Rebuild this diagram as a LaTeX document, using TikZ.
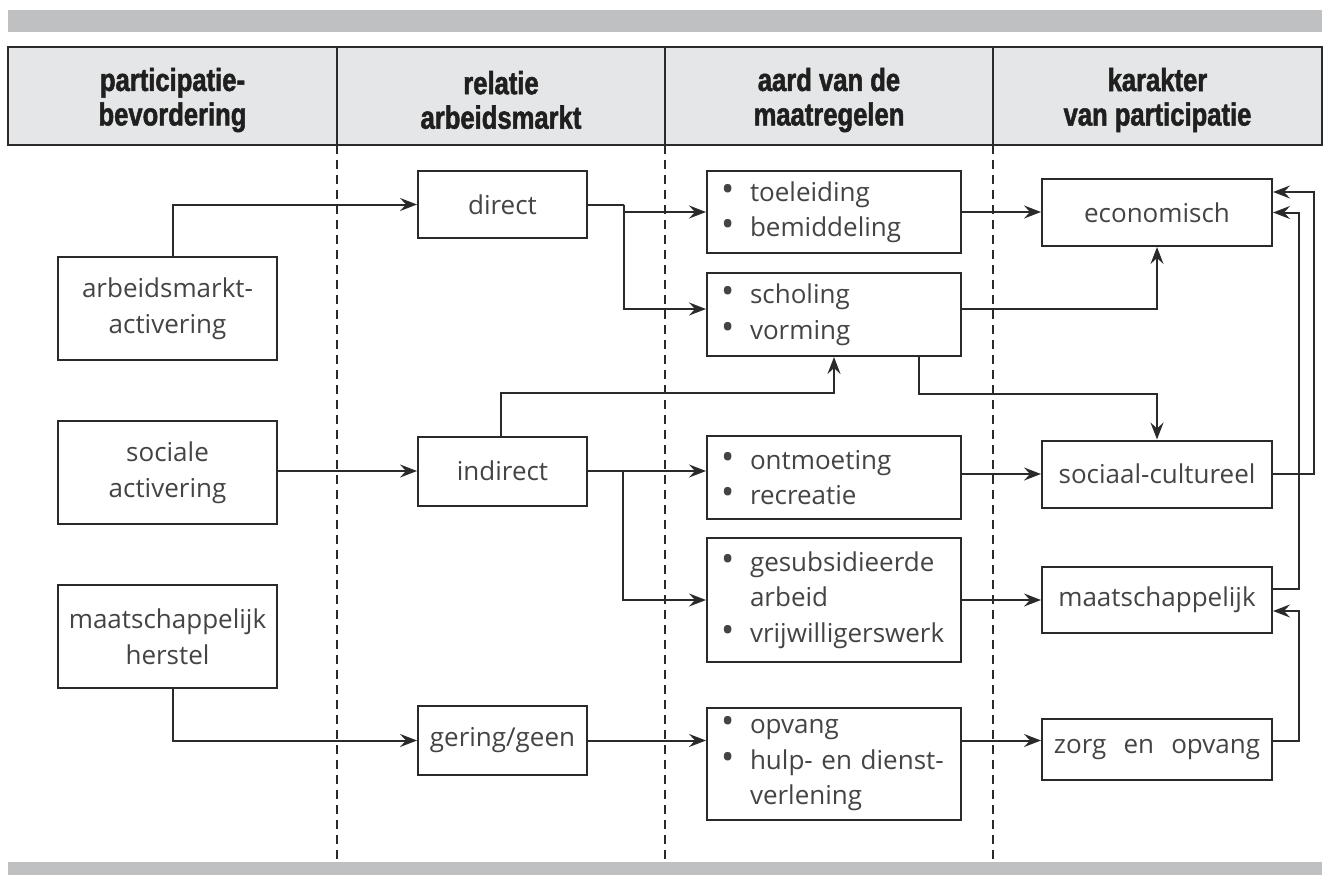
\documentclass[tikz,border=0pt]{standalone}
\usepackage{fontspec}
\setmainfont{Open Sans}
\newfontfamily\hfont[FakeStretch=0.8,BoldFeatures={FakeBold=1.6}]{Liberation Sans}
\usetikzlibrary{arrows.meta}
\definecolor{barg}{HTML}{BFC0C2}
\definecolor{hdrg}{HTML}{E5E6E7}
\definecolor{ln}{HTML}{2A2A2A}
\definecolor{txt}{HTML}{444444}
\newcommand{\itm}{\hspace*{12pt}\makebox[29pt][l]{\scalebox{1.35}{•}}}
\newcommand{\cnt}{\hspace*{41pt}}
\begin{document}
\begin{tikzpicture}[x=1pt,y=-1pt,
  box/.style={draw=ln,line width=2pt,fill=white,text=txt,font=\fontsize{26}{35.5}\selectfont,align=center,inner sep=0pt},
  lbox/.style={box,align=left,text width=250pt,inner xsep=2pt,minimum width=254pt},
  hdr/.style={font=\hfont\bfseries\fontsize{32}{34.5}\selectfont,align=center,text=black!88},
  conn/.style={draw=ln,line width=2pt,-{Stealth[length=17pt,width=13pt,inset=6pt]}},
  plain/.style={draw=ln,line width=2pt},
  sepline/.style={draw=ln,line width=1.6pt,dash pattern=on 9pt off 6pt}]
\path[use as bounding box] (0,0) rectangle (1324,875);
% bars
\fill[barg] (8,10) rectangle (1322,32);
\fill[barg] (8,862) rectangle (1322,875);
% header
\draw[ln,line width=2.2pt,fill=hdrg] (8,47) rectangle (1322,145);
\foreach \x in {337,665,993} \draw[ln,line width=2.2pt] (\x,47) -- (\x,145);
\node[hdr] (h1) at (172.5,100) {participatie-\\bevordering};
\node[hdr] (h2) at (501,100) {relatie\\arbeidsmarkt};
\node[hdr] (h3) at (829,100) {aard van de\\maatregelen};
\node[hdr] (h4) at (1157.5,100) {karakter\\van participatie};
% dashed separators
\foreach \x in {337,665,993} \draw[sepline] (\x,145) -- (\x,862);
% column 1
\node[box,minimum width=219pt,minimum height=103pt] (arb) at (167.5,308.5) {arbeidsmarkt-\\activering};
\node[box,minimum width=219pt,minimum height=103pt] (soc) at (167.5,472.5) {sociale\\activering};
\node[box,minimum width=219pt,minimum height=103pt] (her) at (167.5,636.5) {maatschappelijk\\herstel};
% column 2
\node[box,minimum width=169pt,minimum height=67pt] (dir) at (502.5,204.5) {direct};
\node[box,minimum width=169pt,minimum height=69pt] (ind) at (502.5,471) {indirect};
\node[box,minimum width=169pt,minimum height=69pt] (ger) at (502.5,740.5) {gering/geen};
% column 3
\node[lbox,minimum height=82pt] (toel) at (834,212) {\itm toeleiding\\\itm bemiddeling};
\node[lbox,minimum height=83pt] (schol) at (834,314.5) {\itm scholing\\\itm vorming};
\node[lbox,minimum height=83pt] (ontm) at (834,477.5) {\itm ontmoeting\\\itm recreatie};
\node[lbox,minimum height=124pt] (gesub) at (834,600) {\itm gesubsidieerde\\\cnt arbeid\\\itm vrijwilligerswerk};
\node[lbox,minimum height=112pt] (opv) at (834,764) {\itm opvang\\\itm \makebox[199pt][s]{hulp- en dienst-}\\\cnt verlening};
% column 4
\node[box,minimum width=230pt,minimum height=67pt] (econ) at (1157,212.5) {economisch};
\node[box,minimum width=230pt,minimum height=67pt] (socc) at (1157,474) {sociaal-cultureel};
\node[box,minimum width=230pt,minimum height=66pt] (maats) at (1157,599.5) {maatschappelijk};
\node[box,minimum width=230pt,minimum height=61pt] (zorg) at (1157,749.5) {zorg\hspace{0.4em} en\hspace{0.4em} opvang};
% connectors
\draw[conn] ([xshift=5.5pt]arb.north) |- (dir.west);
\draw[plain] (dir.east) -- ++(36,0) coordinate (dj);
\draw[conn] (dj) |- (toel.west);
\draw[conn] (dj) |- ([yshift=5.5pt]schol.west);
\draw[conn] (toel.east) -- (toel.east -| econ.west);
\draw[conn] ([yshift=5.5pt]schol.east) -| (econ.south);
\draw[conn] ([xshift=85pt]schol.south) -- ++(0,37) -| (socc.north);
\draw[conn] ([xshift=-1.5pt]ind.north) -- ++(0,-43) -| (schol.south);
\draw[conn] (soc.east |- ind.west) -- (ind.west);
\draw[plain] (ind.east) -- ++(35,0) coordinate (ij);
\draw[conn] (ij) -- (ij -| ontm.west);
\draw[conn] (ij) |- (gesub.west);
\draw[conn] (ontm.east |- socc.west) -- (socc.west);
\draw[conn] (gesub.east) -- (gesub.east -| maats.west);
\draw[conn] ([xshift=5.5pt]her.south) |- (ger.west);
\draw[conn] (ger.east) -- (ger.east -| opv.west);
\draw[conn] (opv.east |- ger.east) -- (zorg.west |- ger.east);
\draw[conn] ([yshift=8.5pt]zorg.east) -- ++(26,0) |- ([yshift=-11.5pt]maats.east);
\draw[conn] (socc.east) -- ++(41,0) |- ([yshift=20.5pt]econ.east);
\draw[conn] ([yshift=10.5pt]maats.east) -- ++(26,0) |- (econ.east);
\end{tikzpicture}
\end{document}
